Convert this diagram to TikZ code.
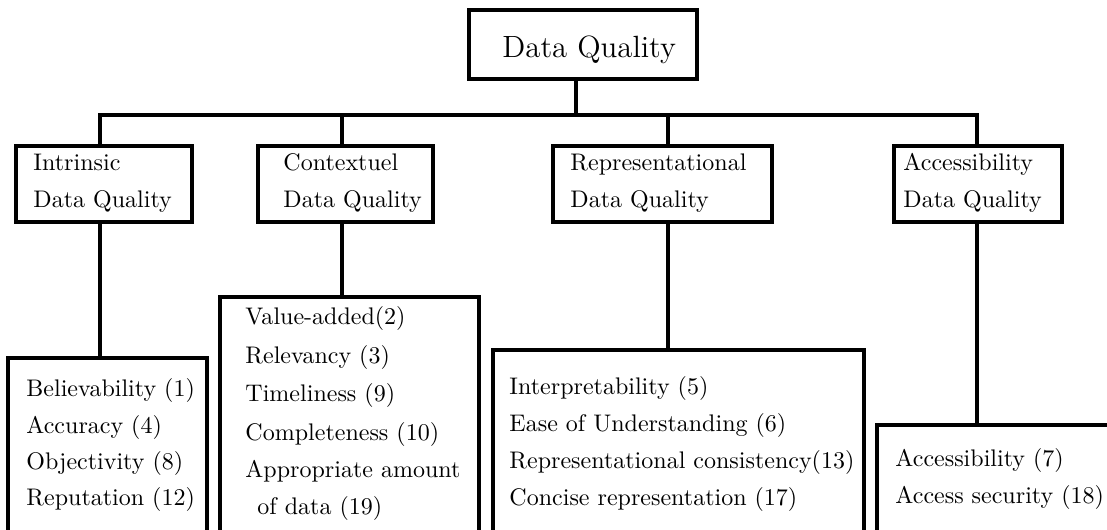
\documentclass[tikz,border=0pt]{standalone}
\usetikzlibrary{fit}
\begin{document}
\begin{tikzpicture}[x=0.4165pt,y=-0.4165pt,
  box/.style={draw, line width=1.3pt, inner sep=0pt},
  wire/.style={line width=1.3pt},
  lbl/.style={anchor=base west, inner sep=0pt, font=\fontsize{10}{12}\selectfont},
  ttl/.style={anchor=base west, inner sep=0pt, font=\fontsize{12.8}{15}\selectfont}]
\useasboundingbox (0,0) rectangle (1107,529);
\clip (0,0) rectangle (1107,529);

% root
\node[box, fit={(469,10) (697,79)}] (dq) {};
\node[ttl] (dqt) at (502,57) {Data Quality};

% categories
\node[box, fit={(16,146) (192,222)}] (intr) {};
\node[box, fit={(258,146) (433,222)}] (ctx) {};
\node[box, fit={(553,146) (772,222)}] (rep) {};
\node[box, fit={(894,146) (1062,222)}] (acc) {};

\node[lbl] (intr1) at (33,170) {Intrinsic};
\node[lbl] (intr2) at (33,207) {Data Quality};
\node[lbl] (ctx1) at (283,170) {Contextuel};
\node[lbl] (ctx2) at (283,207) {Data Quality};
\node[lbl] (rep1) at (570,170) {Representational};
\node[lbl] (rep2) at (570,207) {Data Quality};
\node[lbl] (acc1) at (903,170) {Accessibility};
\node[lbl] (acc2) at (903,207) {Data Quality};

% dimension lists (open below the page edge)
\node[box, fit={(8,358) (207,570)}] (intrL) {};
\node[box, fit={(220,297) (479,570)}] (ctxL) {};
\node[box, fit={(493,350) (864,570)}] (repL) {};
\node[box, fit={(877,425) (1140,570)}] (accL) {};

\node[lbl] (i1) at (26,396) {Believability (1)};
\node[lbl] (i2) at (26,433) {Accuracy (4)};
\node[lbl] (i3) at (26,469) {Objectivity (8)};
\node[lbl] (i4) at (26,505) {Reputation (12)};

\node[lbl] (c1) at (245,324) {Value-added(2)};
\node[lbl] (c2) at (245,363) {Relevancy (3)};
\node[lbl] (c3) at (245,401) {Timeliness (9)};
\node[lbl] (c4) at (245,440) {Completeness (10)};
\node[lbl] (c5) at (245,477) {Appropriate amount};
\node[lbl] (c6) at (257,514) {of data (19)};

\node[lbl] (r1) at (509,394) {Interpretability (5)};
\node[lbl] (r2) at (509,431) {Ease of Understanding (6)};
\node[lbl] (r3) at (509,468) {Representational consistency(13)};
\node[lbl] (r4) at (509,505) {Concise representation (17)};

\node[lbl] (a1) at (895,466) {Accessibility (7)};
\node[lbl] (a2) at (895,503) {Access security (18)};

% tree connectors
\coordinate (t0) at (576,115);
\coordinate (t1) at (100,115);
\coordinate (t2) at (342,115);
\coordinate (t3) at (668,115);
\coordinate (t4) at (977,115);

\draw[wire] (t0 |- dq.south) -- (t0);
\draw[wire] (t1 |- intr.north) -- (t1) -- (t4) -- (t4 |- acc.north);
\draw[wire] (t2) -- (t2 |- ctx.north);
\draw[wire] (t3) -- (t3 |- rep.north);

\draw[wire] (t1 |- intr.south) -- (t1 |- intrL.north);
\draw[wire] (t2 |- ctx.south) -- (t2 |- ctxL.north);
\draw[wire] (t3 |- rep.south) -- (t3 |- repL.north);
\draw[wire] (t4 |- acc.south) -- (t4 |- accL.north);
\end{tikzpicture}
\end{document}
